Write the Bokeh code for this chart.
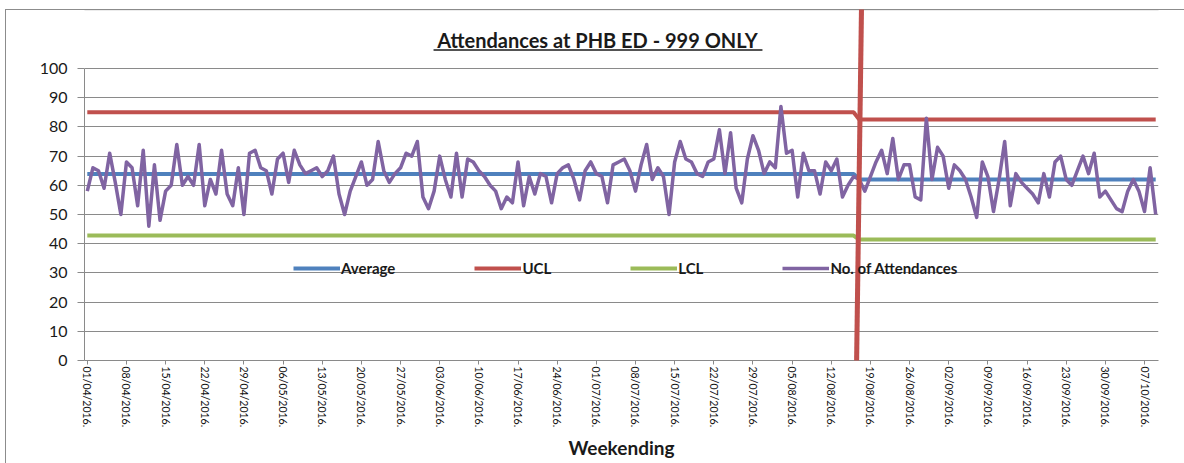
from bokeh.plotting import figure
from bokeh.models import FixedTicker, BoxAnnotation, PolyAnnotation, Label
from bokeh.embed import file_html
from bokeh.resources import INLINE

# ---- data ----
attendances = [
    58, 66, 65, 59, 71, 61, 50, 68, 66, 53,
    72, 46, 67, 48, 58, 60, 74, 60, 63, 60,
    74, 53, 62, 57, 72, 57, 53, 66, 50, 71,
    72, 66, 65, 57, 69, 71, 61, 72, 67, 64,
    65, 66, 63, 65, 70, 57, 50, 58, 63, 68,
    60, 62, 75, 65, 61, 64, 66, 71, 70, 75,
    56, 52, 58, 70, 62, 56, 71, 56, 69, 68,
    65, 63, 60, 58, 52, 56, 54, 68, 53, 63,
    57, 64, 63, 54, 64, 66, 67, 62, 55, 65,
    68, 64, 63, 54, 67, 68, 69, 65, 58, 67,
    74, 62, 66, 63, 50, 68, 75, 69, 68, 64,
    63, 68, 69, 79, 64, 78, 59, 54, 69, 77,
    72, 64, 68, 66, 87, 71, 72, 56, 71, 65,
    65, 57, 68, 65, 69, 56, 60, 63, 62, 58,
    63, 68, 72, 64, 76, 62, 67, 67, 56, 55,
    83, 62, 73, 70, 59, 67, 65, 62, 56, 49,
    68, 63, 51, 62, 75, 53, 64, 61, 59, 57,
    54, 64, 56, 68, 70, 62, 60, 65, 70, 64,
    71, 56, 58, 55, 52, 51, 58, 62, 58, 51,
    66, 50,
]
phase_lengths = [138, 54]
phase_average = [63.9, 62.0]
phase_ucl = [85.0, 82.5]
phase_lcl = [42.8, 41.4]

tick_labels = [
    "01/04/2016.", "08/04/2016.", "15/04/2016.", "22/04/2016.", "29/04/2016.",
    "06/05/2016.", "13/05/2016.", "20/05/2016.", "27/05/2016.", "03/06/2016.",
    "10/06/2016.", "17/06/2016.", "24/06/2016.", "01/07/2016.", "08/07/2016.",
    "15/07/2016.", "22/07/2016.", "29/07/2016.", "05/08/2016.", "12/08/2016.",
    "19/08/2016.", "26/08/2016.", "02/09/2016.", "09/09/2016.", "16/09/2016.",
    "23/09/2016.", "30/09/2016.", "07/10/2016.",
]
tick_step = 7
y_ticks = list(range(0, 101, 10))

# ---- build series ----
n = len(attendances)
x = list(range(n))


def per_phase(vals):
    out = []
    for v, k in zip(vals, phase_lengths):
        out += [v] * k
    return out


avg_line = per_phase(phase_average)
ucl_line = per_phase(phase_ucl)
lcl_line = per_phase(phase_lcl)

BLUE = "#4F81BD"
RED = "#C0504D"
GREEN = "#9BBB59"
PURPLE = "#8064A2"
GRID = "#8a8a8a"
TXT = "#1a1a1a"
FONT = "Lato"

# frame: x 84..1158, y (value 0) at 360; upper part of frame holds the title
p = figure(width=1184, height=463, x_range=(-0.5, n - 0.5), y_range=(0, 123.29),
           output_backend="svg", toolbar_location=None,
           min_border_left=84, min_border_right=26, min_border_top=0,
           min_border_bottom=103)
# transparent canvas so the chart-area border drawn by CSS shows through
p.background_fill_color = None
p.border_fill_color = None
p.outline_line_color = None
p.styles = {"box-shadow": "inset 5px 9px 0 0 white, inset 6px 10px 0 0 #8c8c8c",
            "background-color": "white"}

p.line(x, avg_line, line_color=BLUE, line_width=4, legend_label="Average")
p.line(x, ucl_line, line_color=RED, line_width=4, legend_label="UCL")
p.line(x, lcl_line, line_color=GREEN, line_width=4, legend_label="LCL")
p.line(x, attendances, line_color=PURPLE, line_width=3.5, line_join="round",
       legend_label="No. of Attendances")

# axes
p.xgrid.visible = False
p.ygrid.ticker = FixedTicker(ticks=y_ticks)
p.ygrid.grid_line_color = GRID

p.yaxis.ticker = FixedTicker(ticks=y_ticks)
p.yaxis.bounds = (0, 100)
p.yaxis.axis_line_color = GRID
p.yaxis.major_tick_line_color = GRID
p.yaxis.major_tick_out = 7
p.yaxis.major_tick_in = 0
p.yaxis.minor_tick_line_color = None
p.yaxis.major_label_standoff = 10
p.yaxis.major_label_text_font = FONT
p.yaxis.major_label_text_font_size = "16px"
p.yaxis.major_label_text_color = TXT

tick_pos = list(range(0, n, tick_step))[:len(tick_labels)]
p.xaxis.ticker = FixedTicker(ticks=tick_pos)
p.xaxis.major_label_overrides = {t: lab for t, lab in zip(tick_pos, tick_labels)}
p.xaxis.major_label_orientation = "vertical"
p.xaxis.axis_line_color = GRID
p.xaxis.major_tick_line_color = GRID
p.xaxis.major_tick_out = 4
p.xaxis.major_tick_in = 0
p.xaxis.minor_tick_line_color = None
p.xaxis.major_label_standoff = 2
p.xaxis.major_label_text_font = FONT
p.xaxis.major_label_text_font_size = "10.5px"
p.xaxis.major_label_text_color = "#111111"
p.xaxis.axis_label = "Weekending"
p.xaxis.axis_label_standoff = 6
p.xaxis.axis_label_text_font = FONT
p.xaxis.axis_label_text_font_style = "bold"
p.xaxis.axis_label_text_font_size = "19px"
p.xaxis.axis_label_text_color = TXT

# legend
lg = p.legend[0]
lg.orientation = "horizontal"
lg.location = (209, 83)
lg.spacing = 79
lg.glyph_width = 47
lg.glyph_height = 16
lg.label_height = 16
lg.label_standoff = 1
lg.label_text_font = FONT
lg.label_text_font_style = "bold"
lg.label_text_font_size = "15px"
lg.label_text_color = TXT
lg.padding = 0
lg.margin = 0
lg.background_fill_alpha = 0
lg.border_line_color = None

# top edge of the chart-area border inside the frame (fallback for the CSS line)
p.add_layout(BoxAnnotation(left=-14.6, right=400, top=120.03, bottom=-80,
                           fill_alpha=0, line_color="#8c8c8c", line_width=1))

# title and underline
p.add_layout(Label(x=91.2, y=109.9, text="Attendances at PHB ED - 999 ONLY",
                   text_align="center", text_baseline="middle",
                   text_font=FONT, text_font_style="bold",
                   text_font_size="20px", text_color=TXT))
p.add_layout(BoxAnnotation(left=61.9, right=120.7, top=106.6, bottom=106.1,
                           fill_color=TXT, fill_alpha=1, line_color=None))

# hand-drawn red divider
p.add_layout(PolyAnnotation(xs=[137.95, 138.85, 137.96, 137.06],
                            ys=[120.2, 120.2, -3.1, -3.1],
                            fill_color=RED, fill_alpha=1, line_color=None))

open("out.html", "w").write(file_html(p, INLINE))
